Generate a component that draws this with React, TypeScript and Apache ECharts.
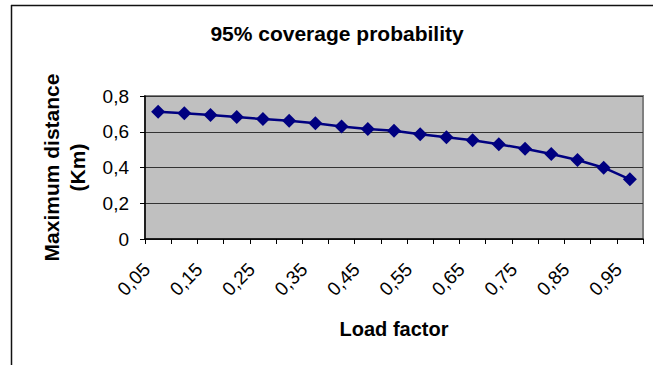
import React, { useEffect, useRef } from "react";
import * as echarts from "echarts";

const categories = [
  "0,05", "0,1", "0,15", "0,2", "0,25", "0,3", "0,35", "0,4", "0,45", "0,5",
  "0,55", "0,6", "0,65", "0,7", "0,75", "0,8", "0,85", "0,9", "0,95",
];
const maxDistance = [
  0.712, 0.703, 0.694, 0.682, 0.671, 0.662, 0.647, 0.63, 0.615, 0.605,
  0.586, 0.569, 0.552, 0.53, 0.505, 0.476, 0.442, 0.399, 0.334,
];
const yTicks = { min: 0, max: 0.8, interval: 0.2 };

const FONT = "Arial, 'Liberation Sans', sans-serif";

export default function App() {
  const ref = useRef<HTMLDivElement>(null);
  useEffect(() => {
    if (!ref.current) return;
    const chart = echarts.init(ref.current, null, { renderer: "svg" });
    chart.setOption({
      animation: false,
      backgroundColor: "#ffffff",
      title: {
        text: "95% coverage probability",
        left: 332,
        top: 18,
        textAlign: "center",
        textStyle: { fontFamily: FONT, fontSize: 21, fontWeight: "bold", color: "#000" },
      },
      graphic: [
        { type: "line", shape: { x1: 11.5, y1: 5, x2: 11.5, y2: 365 }, style: { stroke: "#111", lineWidth: 1.5 } },
        { type: "line", shape: { x1: 11, y1: 5.5, x2: 653, y2: 5.5 }, style: { stroke: "#111", lineWidth: 1.5 } },
      ],
      grid: {
        left: 145,
        right: 10,
        top: 96,
        bottom: 126,
        show: true,
        backgroundColor: "#c0c0c0",
        borderColor: "#808080",
        borderWidth: 2,
      },
      xAxis: {
        type: "category",
        data: categories,
        boundaryGap: true,
        name: "Load factor",
        nameLocation: "middle",
        nameGap: 80,
        nameTextStyle: { fontFamily: FONT, fontSize: 20, fontWeight: "bold", color: "#000" },
        axisLine: { lineStyle: { color: "#000", width: 1.5 } },
        axisTick: { show: true, interval: 0, length: 5, lineStyle: { color: "#000" } },
        axisLabel: {
          interval: 1,
          rotate: 45,
          margin: 16,
          padding: [0, 16, 0, 0],
          fontFamily: FONT,
          fontSize: 19,
          color: "#000",
        },
        splitLine: { show: false },
      },
      yAxis: {
        type: "value",
        min: yTicks.min,
        max: yTicks.max,
        interval: yTicks.interval,
        name: "Maximum distance\n(Km)",
        nameLocation: "middle",
        nameRotate: 90,
        nameGap: 55,
        nameTextStyle: { fontFamily: FONT, fontSize: 21, fontWeight: "bold", color: "#000", lineHeight: 26 },
        axisLine: { show: true, lineStyle: { color: "#000", width: 1.5 } },
        axisTick: { show: true, length: 5, lineStyle: { color: "#000" } },
        axisLabel: {
          margin: 16,
          fontFamily: FONT,
          fontSize: 19,
          color: "#000",
          formatter: (v: number) => (v === 0 ? "0" : String(Math.round(v * 10) / 10).replace(".", ",")),
        },
        splitLine: { show: true, lineStyle: { color: "#333", width: 1 } },
      },
      series: [
        {
          type: "line",
          data: maxDistance,
          symbol: "diamond",
          symbolSize: 14,
          lineStyle: { color: "#000080", width: 2.5 },
          itemStyle: { color: "#000080" },
        },
      ],
    });
    return () => chart.dispose();
  }, []);
  return (
    <div
      ref={ref}
      style={{ position: "absolute", left: 0, top: 0, width: 653, height: 365 }}
    />
  );
}
